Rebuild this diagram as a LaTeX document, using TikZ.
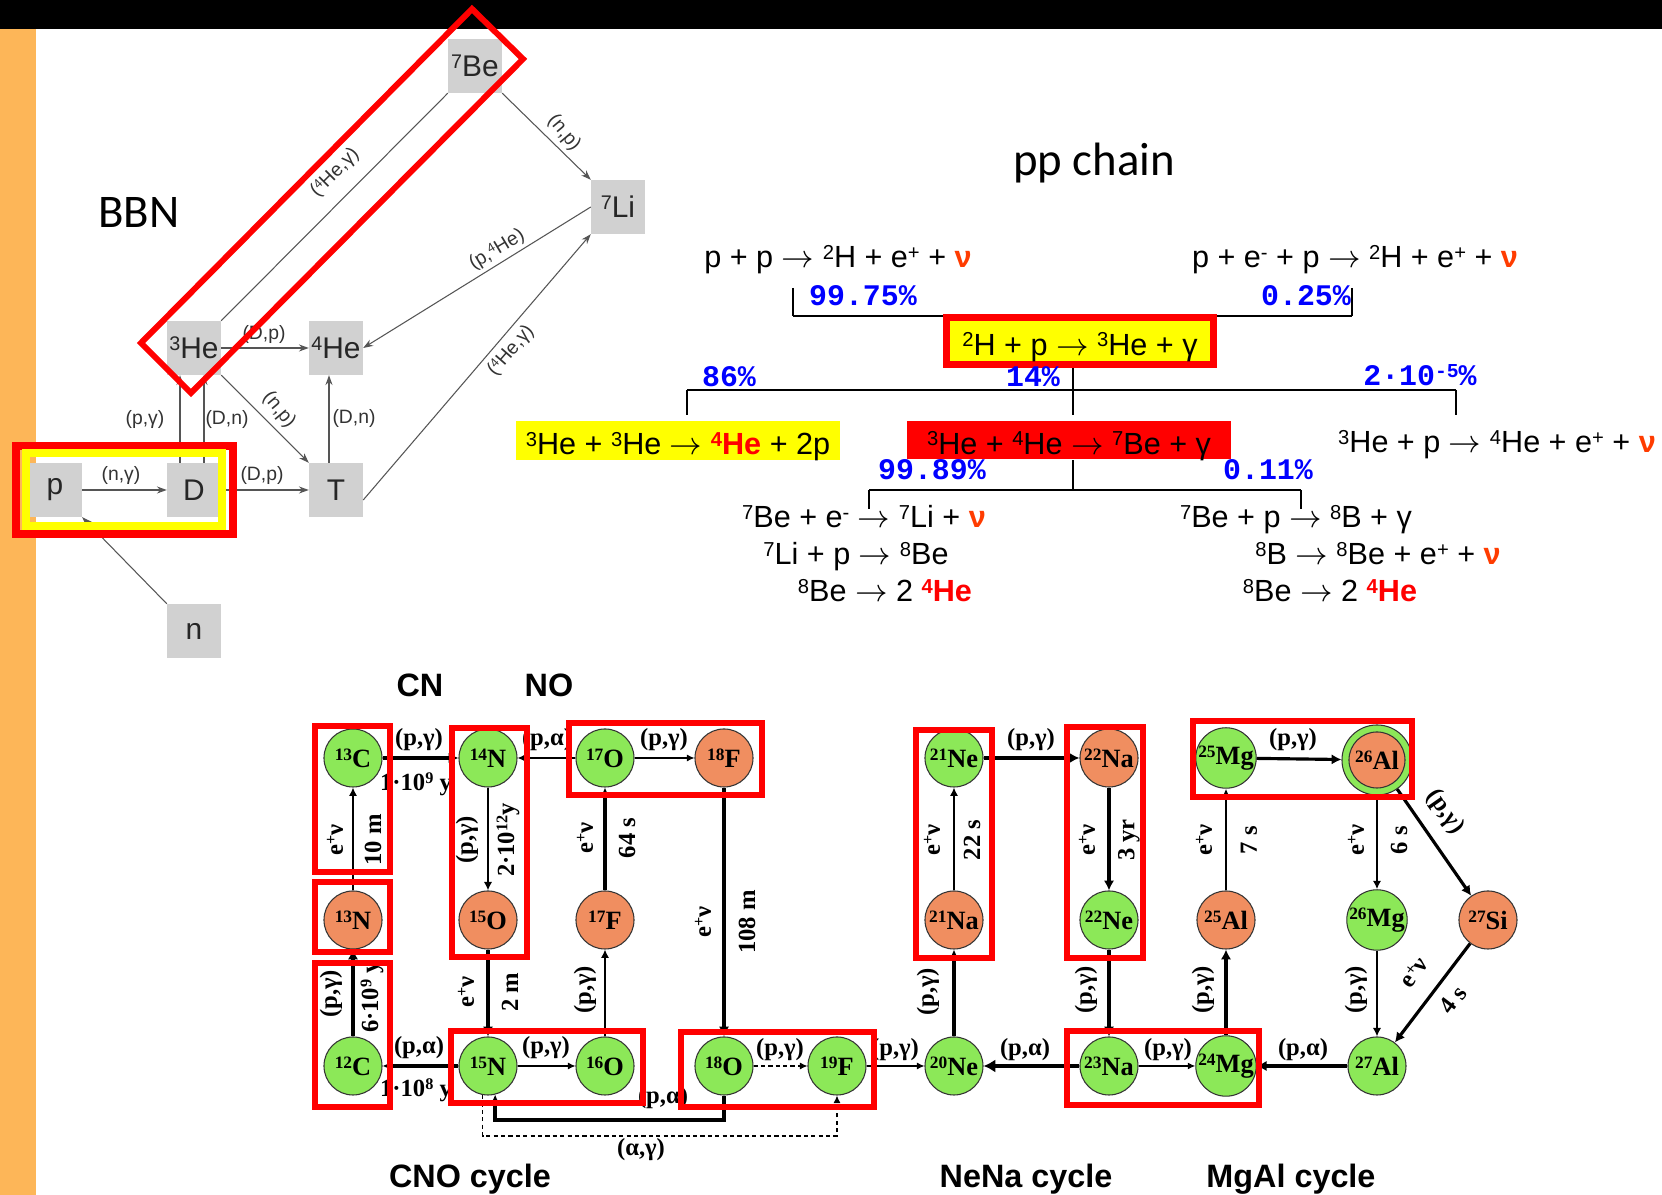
\documentclass[tikz,border=0pt]{standalone}
\usepackage{fontspec}
\usepackage{graphicx}
\setmainfont{Liberation Sans}
\newfontfamily\titlefont{Carlito}
\newfontfamily\pctfont{Liberation Mono}
\newfontfamily\nucfont{Liberation Serif}
\usetikzlibrary{arrows.meta}

\definecolor{slideorange}{RGB}{253,182,88}
\definecolor{boxgray}{RGB}{209,209,209}
\definecolor{linegray}{RGB}{85,85,85}
\definecolor{nugreen}{RGB}{140,232,88}
\definecolor{nuorange}{RGB}{240,142,96}
\definecolor{nured}{RGB}{255,60,0}
\definecolor{hired}{RGB}{255,0,0}
\definecolor{hiyellow}{RGB}{255,255,0}
\definecolor{pctblue}{RGB}{0,0,255}

\newcommand\isoup[1]{\raisebox{0.27em}{\scalebox{0.66}{#1}}}
\newcommand\nuc[2]{\isoup{#1}#2}
\newcommand\neut{\textcolor{nured}{\bfseries ν}}
\newcommand\hefour{\textcolor{hired}{\bfseries\isoup{4}He}}
\newcommand\rarr{\ensuremath{\rightarrow}}

\tikzset{
  titletext/.style={font=\titlefont\fontsize{13.3}{15}\selectfont, inner sep=0pt, anchor=base},
  bbnbox/.style={fill=boxgray, minimum size=0.53cm, inner sep=0pt, text=black!85,
    font=\fontsize{8.5}{9}\selectfont},
  bbnline/.style={draw=linegray, line width=0.3pt},
  bbnarr/.style={bbnline, -{Stealth[length=2.8pt, width=2pt]}},
  bbnlbl/.style={font=\fontsize{5.5}{6}\selectfont, text=black!80, inner sep=0pt},
  ppeq/.style={font=\fontsize{8.7}{10}\selectfont, inner sep=0pt, anchor=base},
  ppbox/.style={font=\fontsize{8.7}{10}\selectfont, inner sep=0pt, text height=0.95em, text depth=0.15em},
  pct/.style={font=\pctfont\bfseries\fontsize{8.5}{10}\selectfont, text=pctblue, inner sep=0pt, anchor=base},
  brkh/.style={line width=0.6pt},
  brkv/.style={line width=0.45pt},
  nucg/.style={circle, draw=black!80, line width=0.3pt, fill=nugreen, minimum size=0.58cm, inner sep=0pt,
    font=\nucfont\bfseries\fontsize{7.5}{8}\selectfont},
  nuco/.style={nucg, fill=nuorange},
  rx/.style={-{Latex[length=1.8pt 1.1, width=1.5pt 1.6]}},
  lwthin/.style={line width=0.3pt},
  lwmed/.style={line width=0.55pt},
  lwthick/.style={line width=0.9pt},
  lwvthick/.style={line width=1.4pt},
  rxlbl/.style={font=\nucfont\bfseries\fontsize{7}{8}\selectfont, inner sep=0pt},
  cyclbl/.style={font=\bfseries\fontsize{9.2}{10}\selectfont, inner sep=0pt, anchor=base},
  hibox/.style={draw=hired, line width=1.55pt},
}

\begin{document}
\begin{tikzpicture}[x=0.01cm, y=-0.01cm]
\useasboundingbox (0,0) rectangle (1662,1195);
\fill[white] (0,0) rectangle (1662,1195);
\fill[black] (0,0) rectangle (1662,29);
\fill[slideorange] (0,29) rectangle (36,1195);

% BBN network
\node[titletext] (bbnTitle) at (139,228) {BBN};
\node[bbnbox] (Be7) at (475,66) {\isoup{7}Be};
\node[bbnbox] (Li7) at (618,207) {\isoup{7}Li};
\node[bbnbox] (He3) at (194,348) {\isoup{3}He};
\node[bbnbox] (He4) at (336,348) {\isoup{4}He};
\node[bbnbox] (p) at (55,490) {p};
\node[bbnbox] (D) at (194,490) {D};
\node[bbnbox] (T) at (336,490) {T};
\node[bbnbox] (n) at (194,631) {n};

\draw[bbnarr] (p) -- (D);
\draw[bbnarr] ([xshift=-0.14cm]D.north) -- ([xshift=-0.14cm]He3.south);
\draw[bbnarr] ([xshift=0.10cm]D.north) -- ([xshift=0.10cm]He3.south);
\draw[bbnarr] (D) -- (T);
\draw[bbnarr] (He3) -- (He4);
\draw[bbnarr] (He3.south east) -- (T.north west);
\draw[bbnarr] ([xshift=-0.07cm]T.north) -- ([xshift=-0.07cm]He4.south);
\draw[bbnarr] (n.north west) -- (p.south east);
\draw[bbnline] (He3.north east) -- (Be7.south west);
\draw[bbnarr] (Be7.south east) -- (Li7.north west);
\draw[bbnarr] (Li7.west) -- (He4.east);
\draw[bbnarr] ([yshift=-0.1cm]T.east) -- (Li7.south west);

\node[bbnlbl] (lnG) at (121,476) {(n,γ)};
\node[bbnlbl] (lpG) at (145,420) {(p,γ)};
\node[bbnlbl] (lDnA) at (227,420) {(D,n)};
\node[bbnlbl] (lDpA) at (262,476) {(D,p)};
\node[bbnlbl] (lDpB) at (264,335) {(D,p)};
\node[bbnlbl, rotate=-50] (lnpA) at (279,410) {(n,p)};
\node[bbnlbl] (lDnB) at (354,419) {(D,n)};
\node[bbnlbl, rotate=45] (lHeGA) at (335,173) {(\isoup{4}He,γ)};
\node[bbnlbl, rotate=-50] (lnpB) at (564,133) {(n,p)};
\node[bbnlbl, rotate=31] (lpHe) at (497,250) {(p,\isoup{4}He)};
\node[bbnlbl, rotate=49] (lHeGB) at (511,351) {(\isoup{4}He,γ)};

\draw[hired, line width=1.7pt] (141,343) -- (472,9) -- (523,59) -- (191,393) -- cycle;
\draw[hired, line width=2.2pt] (16,446) rectangle (233,534);
\draw[hiyellow, line width=2.2pt] (26,453) rectangle (222,526);

% pp chain
\node[titletext] (ppTitle) at (1094,176) {pp chain};
\node[ppeq] (eqA) at (838,268) {p + p \rarr{} \nuc{2}{H} + e\isoup{+} + \neut};
\node[ppeq] (eqB) at (1355,268) {p + e\isoup{-} + p \rarr{} \nuc{2}{H} + e\isoup{+} + \neut};
\node[pct] (pA) at (863,306) {99.75\%};
\node[pct] (pB) at (1306,306) {0.25\%};

\coordinate (brAl) at (793,288);
\coordinate (brAr) at (1352,288);
\coordinate (brAy) at (0,316);
\draw[brkv] (brAl) -- (brAl |- brAy);
\draw[brkv] (brAr) -- (brAr |- brAy);
\draw[brkh] (brAl |- brAy) -- (brAr |- brAy);

\node[ppbox, fill=hiyellow, draw=hired, line width=2pt, minimum width=2.67cm, minimum height=0.47cm]
  (dHp) at (1080,341) {\nuc{2}{H} + p \rarr{} \nuc{3}{He} + γ};

\node[pct] (pC) at (729,387) {86\%};
\node[pct] (pD) at (1033,387) {14\%};
\node[pct] (pE) at (1420,386) {2·10\isoup{-5}\%};

\coordinate (ppmid) at (1073,0);
\coordinate (brBl) at (687,415);
\coordinate (brBr) at (1456,415);
\coordinate (brBy) at (0,390);
\draw[brkh] (brBl |- brBy) -- (brBr |- brBy);
\draw[brkv] (brBl |- brBy) -- (brBl);
\draw[brkv] (brBr |- brBy) -- (brBr);
\draw[brkv] (ppmid |- dHp.south) -- (ppmid |- brBl);

\node[ppbox, fill=hiyellow, minimum width=3.24cm, minimum height=0.37cm]
  (HeHe) at (678,440.5) {\nuc{3}{He} + \nuc{3}{He} \rarr{} \hefour{} + 2p};
\node[ppbox, fill=hired, minimum width=3.24cm, minimum height=0.36cm]
  (HeBe) at (1069,440) {\nuc{3}{He} + \nuc{4}{He} \rarr{} \nuc{7}{Be} + γ};
\node[ppeq] (hep) at (1497,453) {\nuc{3}{He} + p \rarr{} \nuc{4}{He} + e\isoup{+} + \neut};

\node[pct] (pF) at (932,480) {99.89\%};
\node[pct] (pG) at (1268,480) {0.11\%};

\coordinate (brCl) at (869,509);
\coordinate (brCr) at (1301,509);
\coordinate (brCy) at (0,490);
\draw[brkh] (brCl |- brCy) -- (brCr |- brCy);
\draw[brkv] (brCl |- brCy) -- (brCl);
\draw[brkv] (brCr |- brCy) -- (brCr);
\draw[brkv] (ppmid |- HeBe.south) -- (ppmid |- brCy);

\node[ppeq] (beA1) at (864,528) {\nuc{7}{Be} + e\isoup{-} \rarr{} \nuc{7}{Li} + \neut};
\node[ppeq] (beA2) at (856,565) {\nuc{7}{Li} + p \rarr{} \nuc{8}{Be}};
\node[ppeq] (beA3) at (885,602) {\nuc{8}{Be} \rarr{} 2 \hefour};
\node[ppeq] (beB1) at (1296,528) {\nuc{7}{Be} + p \rarr{} \nuc{8}{B} + γ};
\node[ppeq] (beB2) at (1378,565) {\nuc{8}{B} \rarr{} \nuc{8}{Be} + e\isoup{+} + \neut};
\node[ppeq] (beB3) at (1330,602) {\nuc{8}{Be} \rarr{} 2 \hefour};

% CNO, NeNa, MgAl cycles
\node[cyclbl] (cnTitle) at (420,697) {CN};
\node[cyclbl] (noTitle) at (549,697) {NO};
\node[cyclbl] (cnoTitle) at (470,1188) {CNO cycle};
\node[cyclbl] (nenaTitle) at (1026,1188) {NeNa cycle};
\node[cyclbl] (mgalTitle) at (1291,1188) {MgAl cycle};

\node[nucg] (C13) at (353,758) {\nuc{13}{C}};
\node[nuco] (N13) at (353,920) {\nuc{13}{N}};
\node[nucg] (C12) at (353,1066) {\nuc{12}{C}};
\node[nucg] (N14) at (488,758) {\nuc{14}{N}};
\node[nuco] (O15) at (488,920) {\nuc{15}{O}};
\node[nucg] (N15) at (488,1066) {\nuc{15}{N}};
\node[nucg] (O17) at (605,758) {\nuc{17}{O}};
\node[nuco] (F17) at (605,920) {\nuc{17}{F}};
\node[nucg] (O16) at (605,1066) {\nuc{16}{O}};
\node[nuco] (F18) at (724,758) {\nuc{18}{F}};
\node[nucg] (O18) at (724,1066) {\nuc{18}{O}};
\node[nucg] (F19) at (837,1066) {\nuc{19}{F}};
\node[nucg] (Ne21) at (954,758) {\nuc{21}{Ne}};
\node[nuco] (Na21) at (954,920) {\nuc{21}{Na}};
\node[nucg] (Ne20) at (954,1066) {\nuc{20}{Ne}};
\node[nuco] (Na22) at (1109,758) {\nuc{22}{Na}};
\node[nucg] (Ne22) at (1109,920) {\nuc{22}{Ne}};
\node[nucg] (Na23) at (1109,1066) {\nuc{23}{Na}};
\node[nucg] (Mg25) at (1226,758) {\nuc{25}{Mg}};
\node[nuco] (Al25) at (1226,920) {\nuc{25}{Al}};
\node[nucg] (Mg24) at (1226,1066) {\nuc{24}{Mg}};
\node[nucg, minimum size=0.70cm] (Al26) at (1377,760) {};
\node[nuco, minimum size=0.56cm] (Al26c) at (1377,760) {\nuc{26}{Al}};
\node[nucg] (Mg26) at (1377,920) {\nuc{26}{Mg}};
\node[nucg] (Al27) at (1377,1066) {\nuc{27}{Al}};
\node[nuco] (Si27) at (1488,920) {\nuc{27}{Si}};

\draw[rx, lwthick] (C13) -- (N14);
\draw[rx, lwthin] (O17) -- (N14);
\draw[rx, lwthin] (O17) -- (F18);
\draw[rx, lwmed] (N13) -- (C13);
\draw[rx, lwthick] (C12) -- (N13);
\draw[rx, lwthick] (N15) -- (C12);
\draw[rx, lwmed] (N14) -- (O15);
\draw[rx, lwthick] (O15) -- (N15);
\draw[rx, lwthin] (N15) -- (O16);
\draw[rx, lwmed] (O16) -- (F17);
\draw[rx, lwthick] (F17) -- (O17);
\draw[rx, lwthick] (F18) -- (O18);
\draw[rx, lwthin, dash pattern=on 1.2pt off 0.9pt] (O18) -- (F19);
\draw[rx, lwthin] (F19) -- (Ne20);
\draw[rx, lwthick] (Ne20) -- (Na21);
\draw[rx, lwmed] (Na21) -- (Ne21);
\draw[rx, lwthick] (Ne21) -- (Na22);
\draw[rx, lwthick] (Na22) -- (Ne22);
\draw[rx, lwthick] (Ne22) -- (Na23);
\draw[rx, lwvthick] (Na23) -- (Ne20);
\draw[rx, lwthin] (Na23) -- (Mg24);
\draw[rx, lwthick] (Mg24) -- (Al25);
\draw[rx, lwmed] (Al25) -- (Mg25);
\draw[rx, lwthick] (Mg25) -- (Al26);
\draw[rx, lwmed] (Al26) -- (Mg26);
\draw[rx, lwthick] (Al26) -- (Si27);
\draw[rx, lwmed] (Mg26) -- (Al27);
\draw[rx, lwthick] (Si27) -- (Al27);
\draw[rx, lwthick] (Al27) -- (Mg24);

\coordinate (palow) at (0,1120);
\coordinate (aglow) at (0,1136);
\draw[rx, line width=1.1pt] (O18.south) -- (O18.south |- palow) -| (N15.-76);
\draw[rx, lwthin, dash pattern=on 1.2pt off 0.9pt] (N15.-100) -- (N15.-100 |- aglow) -| (F19.south);

\node[rxlbl] (lC13) at (419,740) {(p,γ)};
\node[rxlbl] (lC13t) at (416,784) {1·10\isoup{9} y};
\node[rxlbl] (lO17a) at (547,740) {(p,α)};
\node[rxlbl] (lO17g) at (664,740) {(p,γ)};
\node[rxlbl, rotate=90] (lN13e) at (335,840) {e\isoup{+}ν};
\node[rxlbl, rotate=90] (lN13t) at (373,840) {10 m};
\node[rxlbl, rotate=90] (lC12g) at (331,994) {(p,γ)};
\node[rxlbl, rotate=90] (lC12t) at (372,997) {6·10\isoup{9} y};
\node[rxlbl] (lN15a) at (419,1048) {(p,α)};
\node[rxlbl] (lN15t) at (416,1090) {1·10\isoup{8} y};
\node[rxlbl, rotate=90] (lN14g) at (467,840) {(p,γ)};
\node[rxlbl, rotate=90] (lN14t) at (508,840) {2·10\isoup{12}y};
\node[rxlbl, rotate=90] (lO15e) at (466,992) {e\isoup{+}ν};
\node[rxlbl, rotate=90] (lO15t) at (510,992) {2 m};
\node[rxlbl] (lN15g) at (546,1048) {(p,γ)};
\node[rxlbl, rotate=90] (lO16g) at (585,990) {(p,γ)};
\node[rxlbl, rotate=90] (lF17e) at (585,838) {e\isoup{+}ν};
\node[rxlbl, rotate=90] (lF17t) at (627,838) {64 s};
\node[rxlbl, rotate=90] (lF18e) at (703,922) {e\isoup{+}ν};
\node[rxlbl, rotate=90] (lF18t) at (747,922) {108 m};
\node[rxlbl] (lO18g) at (780,1050) {(p,γ)};
\node[rxlbl] (lO18a) at (663,1098) {(p,α)};
\node[rxlbl] (lN15ag) at (641,1150) {(α,γ)};
\node[rxlbl] (lF19g) at (895,1050) {(p,γ)};
\node[rxlbl, rotate=90] (lNe20g) at (928,992) {(p,γ)};
\node[rxlbl, rotate=90] (lNa21e) at (932,840) {e\isoup{+}ν};
\node[rxlbl, rotate=90] (lNa21t) at (972,840) {22 s};
\node[rxlbl] (lNe21g) at (1031,740) {(p,γ)};
\node[rxlbl, rotate=90] (lNa22e) at (1087,840) {e\isoup{+}ν};
\node[rxlbl, rotate=90] (lNa22t) at (1129,840) {3 yr};
\node[rxlbl, rotate=90] (lNe22g) at (1086,990) {(p,γ)};
\node[rxlbl] (lNa23a) at (1025,1050) {(p,α)};
\node[rxlbl] (lNa23g) at (1168,1050) {(p,γ)};
\node[rxlbl, rotate=90] (lMg24g) at (1203,990) {(p,γ)};
\node[rxlbl, rotate=90] (lAl25e) at (1204,840) {e\isoup{+}ν};
\node[rxlbl, rotate=90] (lAl25t) at (1249,840) {7 s};
\node[rxlbl] (lMg25g) at (1293,740) {(p,γ)};
\node[rxlbl, rotate=90] (lAl26e) at (1356,840) {e\isoup{+}ν};
\node[rxlbl, rotate=90] (lAl26t) at (1399,840) {6 s};
\node[rxlbl, rotate=-55] (lAl26g) at (1445,812) {(p,γ)};
\node[rxlbl, rotate=90] (lMg26g) at (1356,990) {(p,γ)};
\node[rxlbl, rotate=53] (lSi27e) at (1414,972) {e\isoup{+}ν};
\node[rxlbl, rotate=53] (lSi27t) at (1453,1000) {4 s};
\node[rxlbl] (lAl27a) at (1303,1050) {(p,α)};

\draw[hibox] (315,726) rectangle (390,872);
\draw[hibox] (315,882) rectangle (390,952);
\draw[hibox] (315,963) rectangle (390,1107);
\draw[hibox] (452,728) rectangle (527,957);
\draw[hibox] (569,723) rectangle (762,795);
\draw[hibox] (451,1031) rectangle (643,1103);
\draw[hibox] (681,1032) rectangle (874,1107);
\draw[hibox] (916,730) rectangle (992,958);
\draw[hibox] (1067,727) rectangle (1143,958);
\draw[hibox] (1193,721) rectangle (1412,797);
\draw[hibox] (1067,1031) rectangle (1259,1105);
\end{tikzpicture}
\end{document}
